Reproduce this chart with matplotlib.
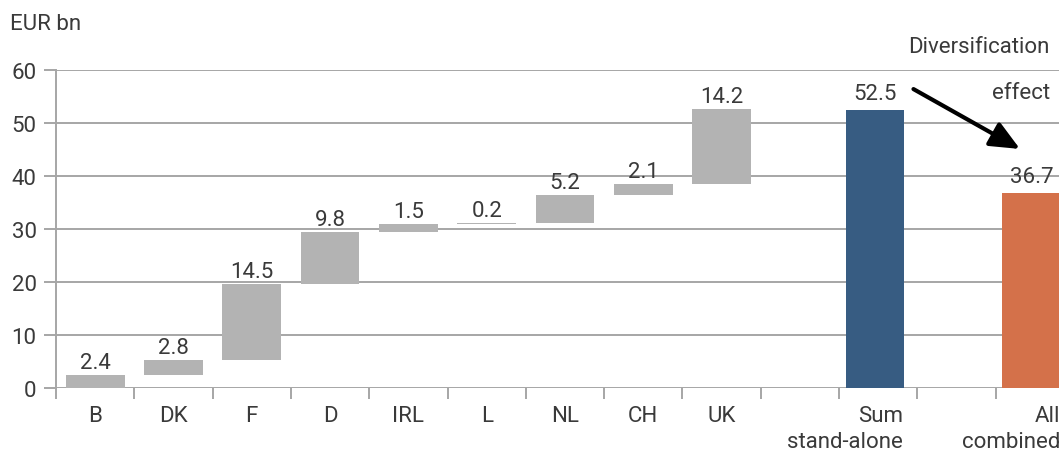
import matplotlib.pyplot as plt
import numpy as np

plt.rcParams['font.family'] = ['Roboto', 'DejaVu Sans']

# stand-alone contribution per country, EUR bn
countries = ['B', 'DK', 'F', 'D', 'IRL', 'L', 'NL', 'CH', 'UK']
contrib = [2.4, 2.8, 14.5, 9.8, 1.5, 0.2, 5.2, 2.1, 14.2]
sum_standalone = 52.5
all_combined = 36.7
total_labels = ['Sum\nstand-alone', 'All\ncombined']

grey = '#b3b3b3'
blue = '#375c82'
orange = '#d4714a'
grid_c = '#a6a6a6'
txt_c = '#3a3a3a'
fs = 16

fig = plt.figure(figsize=(10.59, 4.56), dpi=100)
ax = fig.add_axes([56 / 1059, 67 / 456, 1018 / 1059, 318 / 456])

pos = np.arange(len(countries))
bottoms = np.concatenate([[0], np.cumsum(contrib)[:-1]])
ax.bar(pos, contrib, bottom=bottoms, width=0.75, color=grey, zorder=3)
for x, b, v in zip(pos, bottoms, contrib):
    ax.annotate(f'{v:.1f}', (x, b + v), xytext=(0, 5), textcoords='offset points',
                ha='center', va='baseline', fontsize=fs, color=txt_c, zorder=4)

# totals
sum_x, all_x = len(countries) + 1, len(countries) + 3
ax.bar(sum_x - 0.04, sum_standalone, width=0.75, color=blue, zorder=3)
ax.bar(all_x - 0.04, all_combined, width=0.75, color=orange, zorder=3)
for x, v in [(sum_x, sum_standalone), (all_x, all_combined)]:
    ax.annotate(f'{v:.1f}', (x - 0.04, v), xytext=(0, 8), textcoords='offset points',
                ha='center', va='baseline', fontsize=fs, color=txt_c, zorder=4,
                annotation_clip=False)

ax.set_xlim(-0.5, all_x + 0.5)
ax.set_ylim(0, 60)

# axes styling
for s in ['top', 'right', 'bottom']:
    ax.spines[s].set_visible(False)
ax.spines['left'].set_color(grid_c)
ax.spines['left'].set_linewidth(1.4)
ax.set_yticks(range(0, 61, 10))
ax.yaxis.grid(True, color=grid_c, lw=1.4, zorder=0)
ax.tick_params(axis='y', length=9, width=1.4, color=grid_c, pad=5,
               labelsize=fs, labelcolor=txt_c)

ax.set_xticks(pos)
ax.set_xticklabels(countries)
ax.set_xticks(np.arange(-0.5, all_x + 0.6, 1), minor=True)
ax.tick_params(axis='x', which='major', length=0, pad=12, labelsize=fs, labelcolor=txt_c)
ax.tick_params(axis='x', which='minor', length=8, width=1.4, color=grid_c)

for x, lab in [(sum_x, total_labels[0]), (all_x, total_labels[1])]:
    ax.annotate(lab, (x + 0.32, 0), xytext=(0, -12), textcoords='offset points',
                ha='right', va='top', multialignment='right', fontsize=fs,
                color=txt_c, linespacing=1.35, annotation_clip=False)

fig.text(10 / 1059, 1 - 25 / 456, 'EUR bn', fontsize=fs, color=txt_c, va='center')

# diversification effect
ax.text(12.19, 64.5, 'Diversification', ha='right', va='center', fontsize=fs,
        color=txt_c, clip_on=False)
ax.text(12.19, 55.8, 'effect', ha='right', va='center', fontsize=fs,
        color=txt_c, clip_on=False)
ax.annotate('', xy=(11.81, 45.1), xytext=(10.45, 56.4),
            arrowprops=dict(arrowstyle='-|>,head_length=0.9,head_width=0.4',
                            lw=3, color='black', mutation_scale=20,
                            shrinkA=0, shrinkB=0),
            annotation_clip=False)

fig.savefig('out.png', dpi=100)
